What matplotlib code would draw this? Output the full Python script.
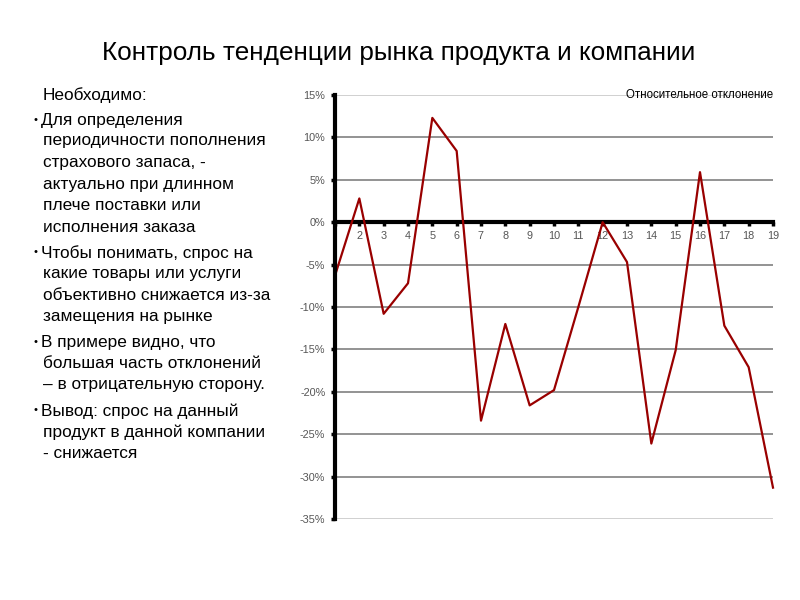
import matplotlib
matplotlib.use("Agg")
import matplotlib.pyplot as plt
from matplotlib.ticker import FixedLocator

plt.rcParams['font.family'] = ['Liberation Sans', 'DejaVu Sans']

title = "Контроль тенденции рынка продукта и компании"
series_name = "Относительное отклонение"
periods = list(range(1, 20))
deviation = [-6.3, 2.8, -10.8, -7.2, 12.3, 8.4, -23.4, -12.0, -21.6, -19.8,
             -10.0, 0.0, -4.7, -26.1, -15.1, 5.9, -12.2, -17.1, -31.3]
y_ticks = [15, 10, 5, 0, -5, -10, -15, -20, -25, -30, -35]
y_labels = ["15%", "10%", "5%", "0%", "-5%", "-10%", "-15%", "-20%", "-25%", "-30%", "-35%"]
x_labels = [str(p) for p in periods]

text_lines = [
    ("Необходимо:", False, 95),
    ("Для определения", True, 121),
    ("периодичности пополнения", False, 141),
    ("страхового запаса, -", False, 162),
    ("актуально при длинном", False, 184),
    ("плече поставки или", False, 205),
    ("исполнения заказа", False, 227),
    ("Чтобы понимать, спрос на", True, 253),
    ("какие товары или услуги", False, 273),
    ("объективно снижается из-за", False, 295),
    ("замещения на рынке", False, 317),
    ("В примере видно, что", True, 343),
    ("большая часть отклонений", False, 364),
    ("– в отрицательную сторону.", False, 385),
    ("Вывод: спрос на данный", True, 411),
    ("продукт в данной компании", False, 432),
    ("- снижается", False, 453),
]

W, H = 800, 600
fig = plt.figure(figsize=(8, 6), dpi=100)
fig.patch.set_facecolor("white")

fig.text(399 / W, 1 - 53 / H, title, ha="center", va="center", fontsize=18.8, color="black")

for txt, bullet, y in text_lines:
    x0 = 41 if bullet else 43
    fig.text(x0 / W, 1 - y / H, txt, ha="left", va="center", fontsize=12.4, color="black")
    if bullet:
        fig.text(34 / W, 1 - (y - 1) / H, "•", ha="left", va="center", fontsize=8, color="black")

left, right, top, bottom = 335, 773, 95, 519
ax = fig.add_axes([left / W, 1 - bottom / H, (right - left) / W, (bottom - top) / H])
ax.set_xlim(1, 19)
ax.set_ylim(-35, 15)

for yv in y_ticks:
    if yv == 0:
        continue
    c = "#c8c8c8" if yv in (15, -35) else "#808080"
    ax.axhline(yv, color=c, lw=1.2, zorder=1)

ax.plot(periods, deviation, color="#990000", lw=1.6, zorder=3, clip_on=False)

for s in ("top", "right"):
    ax.spines[s].set_visible(False)
ax.spines["left"].set_linewidth(3)
ax.spines["left"].set_zorder(4)
ax.spines["bottom"].set_position(("data", 0))
ax.spines["bottom"].set_linewidth(3)
ax.spines["bottom"].set_zorder(2)

ax.xaxis.set_major_locator(FixedLocator(periods))
ax.set_xticklabels([""] + x_labels[1:])
ax.tick_params(axis="x", direction="out", length=3, width=2.5, color="black",
               labelsize=7.8, labelcolor="#555555", pad=3)
ax.set_yticks(y_ticks)
ax.set_yticklabels(y_labels)
ax.tick_params(axis="y", direction="out", length=3, width=2.5, color="black",
               labelsize=7.8, labelcolor="#555555", pad=4)

ax.text(19, 15, series_name, ha="right", va="center", fontsize=8.3, color="black", zorder=5)

fig.savefig("out.png", dpi=100, facecolor="white")
